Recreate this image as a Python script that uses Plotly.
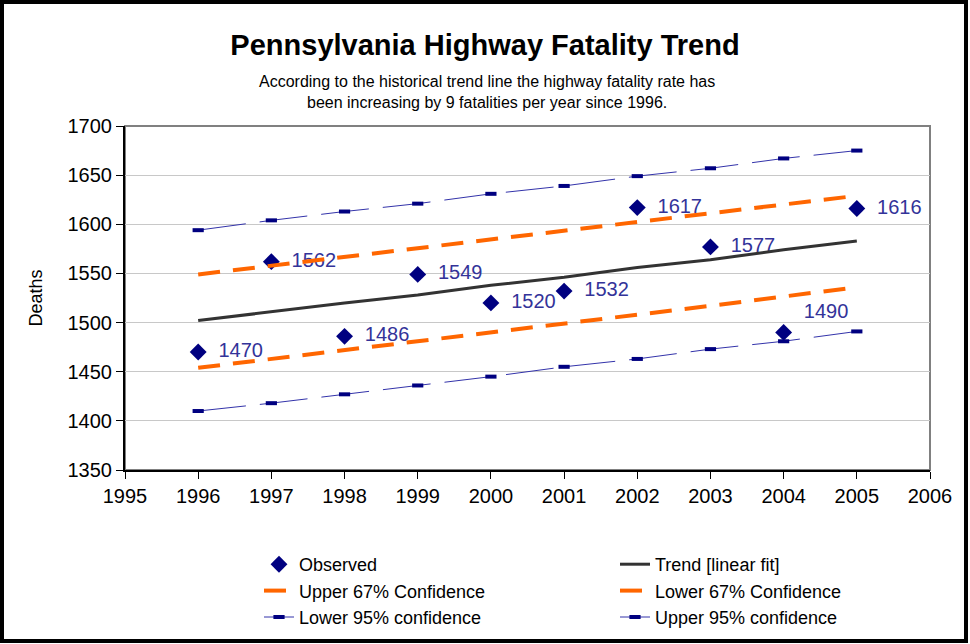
import plotly.graph_objects as go

# --- data ---
years = [1996, 1997, 1998, 1999, 2000, 2001, 2002, 2003, 2004, 2005]
observed = [1470, 1562, 1486, 1549, 1520, 1532, 1617, 1577, 1490, 1616]
trend = [1502, 1511, 1520, 1528, 1538, 1546, 1556, 1564, 1574, 1583]
upper_67 = [1549, 1558, 1567, 1575, 1585, 1594, 1603, 1611, 1620, 1629]
lower_67 = [1454, 1463, 1472, 1480, 1490, 1498, 1508, 1517, 1526, 1536]
upper_95 = [1594, 1604, 1613, 1621, 1631, 1639, 1649, 1657, 1667, 1675]
lower_95 = [1410, 1418, 1427, 1436, 1445, 1455, 1463, 1473, 1481, 1491]

x_ticks = list(range(1995, 2007))
y_ticks = list(range(1350, 1701, 50))

FONT = "Liberation Sans, Arial, sans-serif"
NAVY = "#000080"
LABEL_BLUE = "#333399"
ORANGE = "#FF6600"
THIN_BLUE = "#3333AA"

W, H = 970, 644
M = dict(l=125, r=40, t=126, b=174, autoexpand=False)
pw = W - M["l"] - M["r"]
ph = H - M["t"] - M["b"]

fig = go.Figure()

# order matches the legend reading left-to-right, top-to-bottom
fig.add_trace(go.Scatter(
    x=years, y=observed, mode="markers+text", name="Observed",
    marker=dict(symbol="diamond", size=13, color=NAVY),
    text=[f"  {v}" for v in observed],
    textposition=["middle right"] * 8 + ["top right", "middle right"],
    textfont=dict(size=20, color=LABEL_BLUE, family=FONT),
))
fig.add_trace(go.Scatter(
    x=years, y=trend, mode="lines", name="Trend [linear fit]",
    line=dict(color="#333333", width=3),
))
fig.add_trace(go.Scatter(
    x=years, y=upper_67, mode="lines", name="Upper 67% Confidence",
    line=dict(color=ORANGE, width=4, dash="22px,13px"),
))
fig.add_trace(go.Scatter(
    x=years, y=lower_67, mode="lines", name="Lower 67% Confidence",
    line=dict(color=ORANGE, width=4, dash="22px,13px"),
))
fig.add_trace(go.Scatter(
    x=years, y=lower_95, mode="lines+markers", name="Lower 95% confidence",
    line=dict(color=THIN_BLUE, width=1, dash="48px,14px"),
    marker=dict(symbol="line-ew", size=8, line=dict(width=4, color=NAVY)),
))
fig.add_trace(go.Scatter(
    x=years, y=upper_95, mode="lines+markers", name="Upper 95% confidence",
    line=dict(color=THIN_BLUE, width=1, dash="48px,14px"),
    marker=dict(symbol="line-ew", size=8, line=dict(width=4, color=NAVY)),
))

# subtitle
fig.add_annotation(
    text="According to the historical trend line the highway fatality rate has<br>"
         "been increasing by 9 fatalities per year since 1996.",
    xref="paper", yref="paper", x=(487 - M["l"]) / pw, y=1 + (M["t"] - 92) / ph,
    xanchor="center", yanchor="middle", showarrow=False,
    font=dict(size=16, color="black", family=FONT),
)

# grey plot-area frame (top/right) and black outer frame
fig.add_shape(type="rect", xref="paper", yref="paper", x0=0, x1=1, y0=0, y1=1,
              line=dict(color="#808080", width=2), layer="below")
fig.add_shape(type="rect", xref="paper", yref="paper",
              x0=(-M["l"] + 2) / pw, x1=1 + (M["r"] - 4) / pw,
              y0=-(M["b"] - 3) / ph, y1=1 + (M["t"] - 2) / ph,
              line=dict(color="black", width=4))

fig.update_layout(
    width=W, height=H, margin=M,
    paper_bgcolor="white", plot_bgcolor="white",
    font=dict(family=FONT, color="black", size=17),
    title=dict(text="<b>Pennsylvania Highway Fatality Trend</b>",
               x=0.5, xanchor="center", y=1 - 45 / H, yanchor="middle",
               font=dict(size=29, color="black", family=FONT)),
    xaxis=dict(range=[1995, 2006], tickvals=x_ticks, showgrid=False,
               showline=True, linecolor="black", linewidth=2,
               ticks="outside", ticklen=7, tickcolor="black",
               tickfont=dict(size=20), zeroline=False),
    yaxis=dict(range=[1350, 1700], tickvals=y_ticks, showgrid=True,
               gridcolor="#C8C8C8", gridwidth=1,
               showline=True, linecolor="black", linewidth=2,
               ticks="outside", ticklen=7, tickcolor="black",
               tickfont=dict(size=20), zeroline=False,
               title=dict(text="Deaths", font=dict(size=18), standoff=20)),
    showlegend=True,
    legend=dict(orientation="h", x=(259 - M["l"]) / pw, xanchor="left",
                y=1 - (546 - M["t"]) / ph, yanchor="top",
                entrywidth=311, entrywidthmode="pixels",
                font=dict(size=18, family=FONT), bgcolor="rgba(0,0,0,0)"),
)

# drop the default 8px body margin so the figure sits at the window origin
fig.write_html("out.html", config={"displayModeBar": False},
               post_script="document.body.style.margin = '0';")
